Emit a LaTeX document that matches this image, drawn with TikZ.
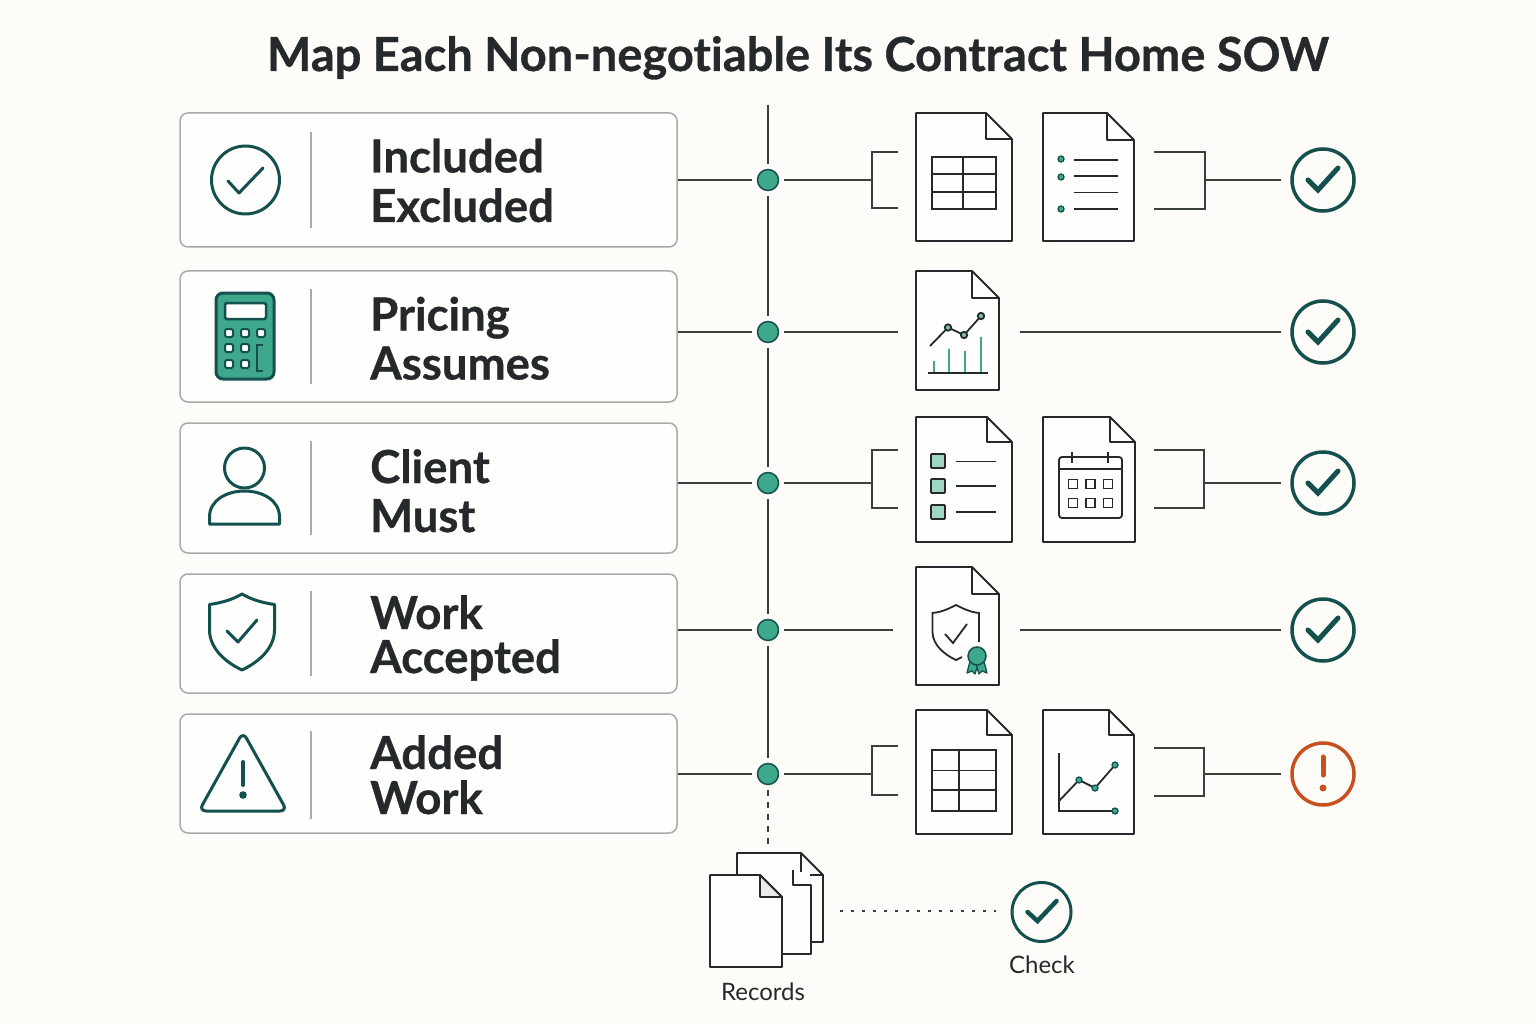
\documentclass[tikz,border=0pt]{standalone}
\usepackage{fontspec}
\setmainfont{Lato}[Ligatures=CommonOff, BoldFeatures={FakeBold=0.7}]
\usetikzlibrary{positioning}

\definecolor{paper}{HTML}{FDFCF8}
\definecolor{sheet}{HTML}{FEFEFC}
\definecolor{ink}{HTML}{25292B}
\definecolor{wire}{HTML}{3A4040}
\definecolor{edgegrey}{HTML}{A9ABA8}
\definecolor{pine}{HTML}{14504E}
\definecolor{teal}{HTML}{3FA88C}
\definecolor{mint}{HTML}{9FD6C4}
\definecolor{rust}{HTML}{C8501E}

% sheet with a folded corner: name, x1, y1, x2, y2, fold
\newcommand{\docsheet}[6]{
  \draw[docline, fill=sheet] (#2,#3) -- (#4-#6,#3) -- (#4,#3+#6) -- (#4,#5) -- (#2,#5) -- cycle;
  \draw[docline] (#4-#6,#3) -- (#4-#6,#3+#6) -- (#4,#3+#6);
  \node[docbox] (#1) at ({(#2+#4)/2},{(#3+#5)/2}) {};
}

\begin{document}
\begin{tikzpicture}[x=1pt, y=-1pt,
    rowbox/.style = {draw=edgegrey, fill=sheet, line width=1.5pt, rounded corners=8pt, inner sep=0pt},
    divider/.style = {draw=edgegrey, line width=1.5pt},
    rowtext/.style = {anchor=base west, inner sep=0pt, text=ink, font=\fontsize{45.5}{50}\selectfont\bfseries},
    smalltext/.style = {anchor=base, inner sep=0pt, text=ink, font=\fontsize{24}{26}\selectfont},
    hub/.style = {circle, draw=pine, fill=teal, line width=1.5pt, minimum size=21pt, inner sep=0pt, outer sep=5.5pt},
    okmark/.style = {circle, draw=pine, line width=3.5pt, minimum size=62pt, inner sep=0pt, outer sep=11pt},
    warnmark/.style = {okmark, draw=rust},
    tickstroke/.style = {draw=pine, line width=5pt, line cap=round, line join=miter},
    thinicon/.style = {draw=pine, line width=3pt, line cap=round, line join=round},
    link/.style = {draw=wire, line width=1.7pt},
    docline/.style = {draw=ink, line width=1.8pt, line join=round},
    docbox/.style = {inner sep=0pt, minimum size=10pt},
    detail/.style = {draw=ink, line width=1.8pt},
    spot/.style = {draw=pine, fill=teal, line width=1.3pt},
    bar/.style = {draw=teal, line width=2pt}]

  \fill[paper] (0,0) rectangle (1536,1024);
  \useasboundingbox (0,0) rectangle (1536,1024);

  \node[anchor=base, inner sep=0pt, text=ink, font=\fontsize{47}{50}\selectfont\bfseries] (title) at (798,71) {Map Each Non-negotiable Its Contract Home SOW};

  % left boxes
  \node[rowbox, minimum width=497pt, minimum height=134pt] (boxA) at (428.5,180) {};
  \node[rowbox, minimum width=497pt, minimum height=131pt] (boxB) at (428.5,336.5) {};
  \node[rowbox, minimum width=497pt, minimum height=130pt] (boxC) at (428.5,488) {};
  \node[rowbox, minimum width=497pt, minimum height=119pt] (boxD) at (428.5,633.5) {};
  \node[rowbox, minimum width=497pt, minimum height=119pt] (boxE) at (428.5,773.5) {};

  \draw[divider] (311,132) -- (311,228);
  \draw[divider] (311,289) -- (311,384);
  \draw[divider] (311,441) -- (311,535);
  \draw[divider] (311,591) -- (311,676);
  \draw[divider] (311,731) -- (311,819);

  \node[rowtext] (textA1) at (370,172.5) {Included};
  \node[rowtext] (textA2) at (370,222) {Excluded};
  \node[rowtext] (textB1) at (370,330.5) {Pricing};
  \node[rowtext] (textB2) at (370,379.5) {Assumes};
  \node[rowtext] (textC1) at (370,483) {Client};
  \node[rowtext] (textC2) at (370,532) {Must};
  \node[rowtext] (textD1) at (370,629) {Work};
  \node[rowtext] (textD2) at (370,673) {Accepted};
  \node[rowtext] (textE1) at (370,769) {Added};
  \node[rowtext] (textE2) at (370,814) {Work};

  % left icons
  \draw[thinicon] (245.5,180) circle[radius=34];
  \draw[thinicon] (228,181) -- (239,193) -- (263,168);

  \draw[draw=pine, fill=teal, line width=3pt, rounded corners=7pt] (216,293) rectangle (274,379);
  \draw[draw=pine, fill=sheet, line width=2.5pt, rounded corners=1.5pt] (225,303) rectangle (266,319);
  \draw[draw=pine, fill=sheet, line width=2pt, rounded corners=1.5pt] (225,329) rectangle (233,337);
  \draw[draw=pine, fill=sheet, line width=2pt, rounded corners=1.5pt] (241,329) rectangle (249,337);
  \draw[draw=pine, fill=sheet, line width=2pt, rounded corners=1.5pt] (257,329) rectangle (265,337);
  \draw[draw=pine, fill=sheet, line width=2pt, rounded corners=1.5pt] (225,344) rectangle (233,352);
  \draw[draw=pine, fill=sheet, line width=2pt, rounded corners=1.5pt] (241,344) rectangle (249,352);
  \draw[draw=pine, fill=sheet, line width=2pt, rounded corners=1.5pt] (225,360) rectangle (233,368);
  \draw[draw=pine, fill=sheet, line width=2pt, rounded corners=1.5pt] (241,360) rectangle (249,368);
  \draw[draw=pine, line width=2pt] (263,345) -- (257,345) -- (257,371) -- (263,371);

  \draw[thinicon] (244.5,468) circle[radius=20];
  \draw[thinicon] (209.5,524) -- (279.5,524) -- (279.5,517) .. controls (279.5,500) and (262,491) .. (244.5,491) .. controls (227,491) and (209.5,500) .. (209.5,517) -- cycle;

  \draw[thinicon] (242,594) .. controls (232,600) and (220,603) .. (209.5,604.5) -- (209.5,630) .. controls (209.5,648) and (225,662) .. (242,670) .. controls (259,662) and (274.5,648) .. (274.5,630) -- (274.5,604.5) .. controls (264,603) and (252,600) .. (242,594) -- cycle;
  \draw[thinicon] (227,631) -- (238,642) -- (257,620);

  \draw[thinicon, rounded corners=7pt] (243,732) -- (287,811) -- (199,811) -- cycle;
  \draw[thinicon, line width=4pt] (243,762) -- (243,785);
  \fill[pine] (243,795) circle[radius=3.8];

  % spine and hubs
  \node[hub] (hubA) at (768,180) {};
  \node[hub] (hubB) at (768,332) {};
  \node[hub] (hubC) at (768,483) {};
  \node[hub] (hubD) at (768,630) {};
  \node[hub] (hubE) at (768,774) {};
  \coordinate (spineTop) at (768,105);
  \coordinate (spineEnd) at (768,845);

  \draw[link] (spineTop) -- (hubA);
  \draw[link] (hubA) -- (hubB);
  \draw[link] (hubB) -- (hubC);
  \draw[link] (hubC) -- (hubD);
  \draw[link] (hubD) -- (hubE);
  \draw[link, line width=2pt, dash pattern=on 6pt off 6pt] (hubE) -- (spineEnd);

  \draw[link] (boxA.east |- hubA) -- (hubA);
  \draw[link] (boxB.east |- hubB) -- (hubB);
  \draw[link] (boxC.east |- hubC) -- (hubC);
  \draw[link] (boxD.east |- hubD) -- (hubD);
  \draw[link] (boxE.east |- hubE) -- (hubE);

  % documents
  \docsheet{docA1}{916}{113}{1012}{241}{26}
  \docsheet{docA2}{1043}{113}{1134}{241}{27}
  \docsheet{docB1}{916}{271}{999}{390}{27}
  \docsheet{docC1}{916}{417}{1012}{542}{25}
  \docsheet{docC2}{1043}{417}{1135}{542}{25}
  \docsheet{docD1}{916}{567}{999}{685}{27}
  \docsheet{docE1}{916}{710}{1012}{834}{25}
  \docsheet{docE2}{1043}{710}{1134}{834}{25}

  % table
  \draw[detail] (932,157) rectangle (996,209);
  \draw[detail] (963,157) -- (963,209);
  \draw[detail] (932,174) -- (996,174);
  \draw[detail] (932,192) -- (996,192);

  % list
  \draw[detail] (1074,160) -- (1118,160);
  \draw[detail] (1074,176) -- (1118,176);
  \draw[detail] (1074,192.5) -- (1118,192.5);
  \draw[detail] (1074,209) -- (1118,209);
  \draw[spot] (1061,159) circle[radius=3];
  \draw[spot] (1061,177) circle[radius=3];
  \draw[spot] (1061,209) circle[radius=3];

  % chart with bars
  \draw[detail] (930,346) -- (948,327.5) -- (964,335) -- (981,316);
  \draw[bar] (934,361) -- (934,373);
  \draw[bar] (949,349) -- (949,373);
  \draw[bar] (965,351) -- (965,373);
  \draw[bar] (981,337) -- (981,373);
  \draw[detail] (928,373) -- (988,373);
  \draw[detail, fill=teal!70] (948,327.5) circle[radius=3.2];
  \draw[detail, fill=teal!70] (964,335) circle[radius=3.2];
  \draw[detail, fill=teal!70] (981,316) circle[radius=3.2];

  % checklist
  \draw[detail, fill=mint, rounded corners=1pt] (931,454) rectangle (945,468);
  \draw[detail, fill=mint, rounded corners=1pt] (931,479) rectangle (945,493);
  \draw[detail, fill=mint, rounded corners=1pt] (931,505) rectangle (945,519);
  \draw[detail] (956,461.5) -- (996,461.5);
  \draw[detail] (956,486) -- (996,486);
  \draw[detail] (956,512) -- (996,512);

  % calendar
  \draw[detail, rounded corners=3pt] (1059,457) rectangle (1122,518);
  \draw[detail] (1059,469) -- (1122,469);
  \draw[detail] (1072,452) -- (1072,463);
  \draw[detail] (1108,452) -- (1108,463);
  \draw[detail] (1068.5,479.5) rectangle (1077.5,488.5);
  \draw[detail] (1086,479.5) rectangle (1095,488.5);
  \draw[detail] (1103.5,479.5) rectangle (1112.5,488.5);
  \draw[detail] (1068.5,498.5) rectangle (1077.5,507.5);
  \draw[detail] (1086,498.5) rectangle (1095,507.5);
  \draw[detail] (1103.5,498.5) rectangle (1112.5,507.5);

  % shield with seal
  \draw[detail] (979,642) -- (979,613) .. controls (970,612) and (964,609) .. (956,605) .. controls (948,609) and (942,612) .. (932.5,613) -- (932.5,632) .. controls (932.5,645) and (945,655) .. (956,660) -- (962,657);
  \draw[detail] (945,634) -- (953,643) -- (967,624);
  \draw[draw=pine, fill=teal, line width=1.3pt, line join=round] (970,661) -- (967,673) -- (972,671) -- (975,674) -- (978,664) -- cycle;
  \draw[draw=pine, fill=teal, line width=1.3pt, line join=round] (984,661) -- (987,673) -- (982,671) -- (979,674) -- (976,664) -- cycle;
  \draw[draw=pine, fill=teal, line width=1.5pt] (977,656) circle[radius=9];

  % second table
  \draw[detail] (932,750) rectangle (996,811);
  \draw[detail] (959,750) -- (959,811);
  \draw[detail] (932,770.5) -- (996,770.5);
  \draw[detail] (932,790) -- (996,790);

  % line chart
  \draw[detail] (1059,753) -- (1059,811) -- (1115,811);
  \draw[detail] (1059,801) -- (1079,780) -- (1095,788) -- (1115,765);
  \draw[spot] (1079,780) circle[radius=3];
  \draw[spot] (1095,788) circle[radius=3];
  \draw[spot] (1115,765) circle[radius=3];
  \draw[spot] (1115,811) circle[radius=3];

  % end marks
  \node[okmark] (endA) at (1323,180) {};
  \node[okmark] (endB) at (1323,332) {};
  \node[okmark] (endC) at (1323,483) {};
  \node[okmark] (endD) at (1323,630) {};
  \node[warnmark] (endE) at (1323,774) {};

  \draw[tickstroke, shift={(1323,180)}] (-15,0) -- (-5,10) -- (15,-12);
  \draw[tickstroke, shift={(1323,332)}] (-15,0) -- (-5,10) -- (15,-12);
  \draw[tickstroke, shift={(1323,483)}] (-15,0) -- (-5,10) -- (15,-12);
  \draw[tickstroke, shift={(1323,630)}] (-15,0) -- (-5,10) -- (15,-12);
  \draw[draw=rust, line width=5pt, line cap=round] (1323,757) -- (1323,775);
  \fill[rust] (1323,788) circle[radius=3.5];

  % row A connectors
  \coordinate (forkA) at (872,180);
  \coordinate (forkA1) at (898,152);
  \coordinate (forkA2) at (898,208);
  \coordinate (joinA) at (1205,180);
  \coordinate (joinA1) at (1154,152);
  \coordinate (joinA2) at (1154,209);
  \draw[link] (hubA) -- (forkA);
  \draw[link] (forkA1) -| (forkA) |- (forkA2);
  \draw[link] (joinA1) -| (joinA) |- (joinA2);
  \draw[link] (joinA) -- (endA);

  % row B connectors
  \coordinate (stubB) at (898,332);
  \coordinate (runB) at (1020,332);
  \draw[link] (hubB) -- (stubB);
  \draw[link] (runB) -- (endB);

  % row C connectors
  \coordinate (forkC) at (872,483);
  \coordinate (forkC1) at (898,450);
  \coordinate (forkC2) at (898,508);
  \coordinate (joinC) at (1204,483);
  \coordinate (joinC1) at (1154,450);
  \coordinate (joinC2) at (1154,508);
  \draw[link] (hubC) -- (forkC);
  \draw[link] (forkC1) -| (forkC) |- (forkC2);
  \draw[link] (joinC1) -| (joinC) |- (joinC2);
  \draw[link] (joinC) -- (endC);

  % row D connectors
  \coordinate (stubD) at (893,630);
  \coordinate (runD) at (1020,630);
  \draw[link] (hubD) -- (stubD);
  \draw[link] (runD) -- (endD);

  % row E connectors
  \coordinate (forkE) at (872,774);
  \coordinate (forkE1) at (898,746);
  \coordinate (forkE2) at (898,795);
  \coordinate (joinE) at (1204,774);
  \coordinate (joinE1) at (1154,748);
  \coordinate (joinE2) at (1154,796);
  \draw[link] (hubE) -- (forkE);
  \draw[link] (forkE1) -| (forkE) |- (forkE2);
  \draw[link] (joinE1) -| (joinE) |- (joinE2);
  \draw[link] (joinE) -- (endE);

  % records stack
  \draw[docline, fill=sheet] (737,853) -- (801,853) -- (823,875) -- (823,942) -- (737,942) -- cycle;
  \draw[docline] (801,853) -- (801,875) -- (823,875);
  \fill[sheet] (738,872) rectangle (810,953);
  \draw[docline] (793,870) -- (793,885) -- (811,885) -- (811,954) -- (782,954);
  \draw[docline, fill=sheet] (710,875) -- (760,875) -- (782,897) -- (782,967) -- (710,967) -- cycle;
  \draw[docline, fill=black!8] (760,875) -- (760,897) -- (782,897) -- cycle;
  \node[docbox, minimum width=113pt, minimum height=114pt] (stack) at (766.5,910) {};
  \node[smalltext] (records) at (763,1000) {Records};

  \node[okmark, line width=3pt, minimum size=59pt, outer sep=16pt] (endCheck) at (1041.5,912) {};
  \draw[tickstroke, line width=4.5pt, shift={(1041.5,912)}] (-14,0) -- (-4,9) -- (15,-11);
  \node[smalltext] (check) at (1042,973) {Check};
  \coordinate (dotsStart) at (840,911);
  \draw[link, line width=2.4pt, dash pattern=on 3pt off 8pt] (dotsStart) -- (endCheck.west |- dotsStart);

\end{tikzpicture}
\end{document}
